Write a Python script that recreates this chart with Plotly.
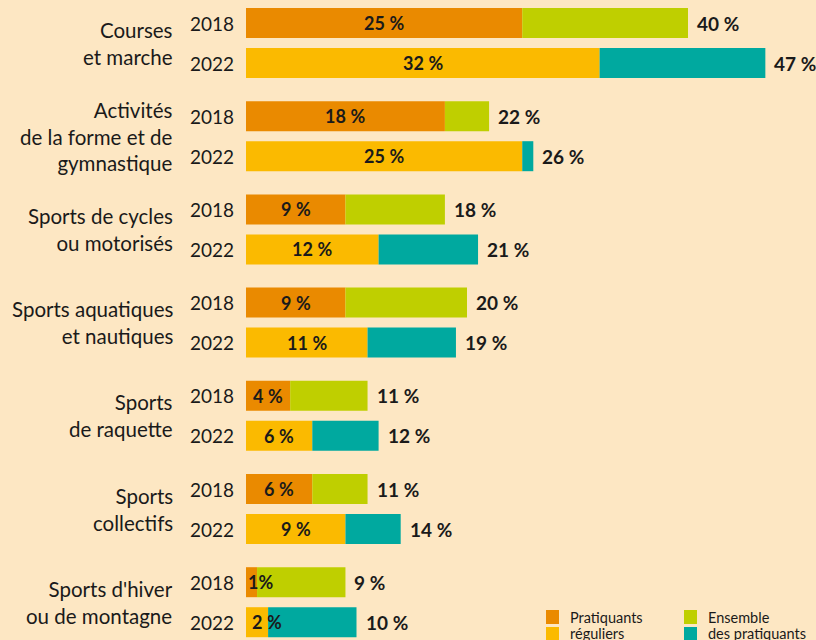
import plotly.graph_objects as go

categories = ["Courses<br>et marche",
              "Activités<br>de la forme et de<br>gymnastique",
              "Sports de cycles<br>ou motorisés",
              "Sports aquatiques<br>et nautiques",
              "Sports<br>de raquette",
              "Sports<br>collectifs",
              "Sports d'hiver<br>ou de montagne"]
years = ["2018", "2022"]
reg_2018 = [25, 18, 9, 9, 4, 6, 1]
tot_2018 = [40, 22, 18, 20, 11, 11, 9]
reg_2022 = [32, 25, 12, 11, 6, 9, 2]
tot_2022 = [47, 26, 21, 19, 12, 14, 10]

C_ORANGE = "#EA8A00"
C_YELLOW = "#FBBA00"
C_GREEN = "#BFCF00"
C_TEAL = "#00A99F"
BG = "#FDE7C3"
TXT = "#1a1a1a"
FONT = "Lato"

GROUP_STEP = 2.33
ys, regs, tots, reg_cols, rest_cols = [], [], [], [], []
for k in range(len(categories)):
    ys += [k * GROUP_STEP, k * GROUP_STEP + 1]
    regs += [reg_2018[k], reg_2022[k]]
    tots += [tot_2018[k], tot_2022[k]]
    reg_cols += [C_ORANGE, C_YELLOW]
    rest_cols += [C_GREEN, C_TEAL]
rest = [t - r for t, r in zip(tots, regs)]

fig = go.Figure()
fig.add_trace(go.Bar(y=ys, x=regs, orientation="h", width=0.75,
                     marker=dict(color=reg_cols, line=dict(width=0)),
                     hoverinfo="skip"))
fig.add_trace(go.Bar(y=ys, x=rest, base=regs, orientation="h", width=0.75,
                     marker=dict(color=rest_cols, line=dict(width=0)),
                     hoverinfo="skip"))

ann = []
for y, r, t in zip(ys, regs, tots):
    lab = f"{r}\u202f%" if r >= 2 else f"{r}%"
    if r >= 4:
        ann.append(dict(x=r / 2, y=y, text=f"<b>{lab}</b>", showarrow=False,
                        xanchor="center", yanchor="middle",
                        font=dict(size=18, color=TXT, family=FONT)))
    else:
        ann.append(dict(x=0, y=y, text=f"<b>{lab}</b>", showarrow=False,
                        xanchor="left", yanchor="middle", xshift=0 if r < 2 else 4,
                        font=dict(size=18, color=TXT, family=FONT)))
    ann.append(dict(x=t, y=y, text=f"<b>{t}\u202f%</b>", showarrow=False,
                    xanchor="left", yanchor="middle", xshift=7,
                    font=dict(size=19, color=TXT, family=FONT)))

for k, cat in enumerate(categories):
    ann.append(dict(x=0, y=k * GROUP_STEP + 0.5, text=cat, showarrow=False,
                    xanchor="right", yanchor="middle", align="right", xshift=-71,
                    font=dict(size=20.5, color=TXT, family=FONT)))
    for j, yr in enumerate(years):
        ann.append(dict(x=0, y=k * GROUP_STEP + j, text=yr, showarrow=False,
                        xanchor="right", yanchor="middle", xshift=-10,
                        font=dict(size=19, color=TXT, family=FONT)))

# legend (custom, paper coordinates)
W, H = 570.0, 640.0
L0 = 246.0
def px(x):
    return (x - L0) / W
def py(y):
    return 1 - y / H

shapes = []
legend_items = [(546, C_ORANGE, C_YELLOW, "Pratiquants", "réguliers"),
                (684, C_GREEN, C_TEAL, "Ensemble", "des pratiquants")]
for x0, c1, c2, t1, t2 in legend_items:
    shapes.append(dict(type="rect", xref="paper", yref="paper",
                       x0=px(x0), x1=px(x0 + 13), y0=py(624), y1=py(610),
                       fillcolor=c1, line=dict(width=0)))
    shapes.append(dict(type="rect", xref="paper", yref="paper",
                       x0=px(x0), x1=px(x0 + 13), y0=py(641), y1=py(627),
                       fillcolor=c2, line=dict(width=0)))
    ann.append(dict(xref="paper", yref="paper", x=px(x0 + 22), y=py(617), text=t1,
                    showarrow=False, xanchor="left", yanchor="middle",
                    font=dict(size=14.5, color=TXT, family=FONT)))
    ann.append(dict(xref="paper", yref="paper", x=px(x0 + 22), y=py(633), text=t2,
                    showarrow=False, xanchor="left", yanchor="middle",
                    font=dict(size=14.5, color=TXT, family=FONT)))

fig.update_layout(
    width=816, height=640, barmode="overlay", showlegend=False,
    paper_bgcolor=BG, plot_bgcolor=BG,
    margin=dict(l=246, r=0, t=0, b=0),
    xaxis=dict(range=[0, W / 11.05], visible=False, fixedrange=True),
    yaxis=dict(range=[(H - 23) / 40, -23 / 40], visible=False, fixedrange=True),
    annotations=ann, shapes=shapes,
    font=dict(family=FONT, color=TXT),
)
fig.write_html("out.html", config={"displayModeBar": False},
               post_script="document.body.style.margin='0';document.body.style.padding='0';document.body.style.overflow='hidden';")
